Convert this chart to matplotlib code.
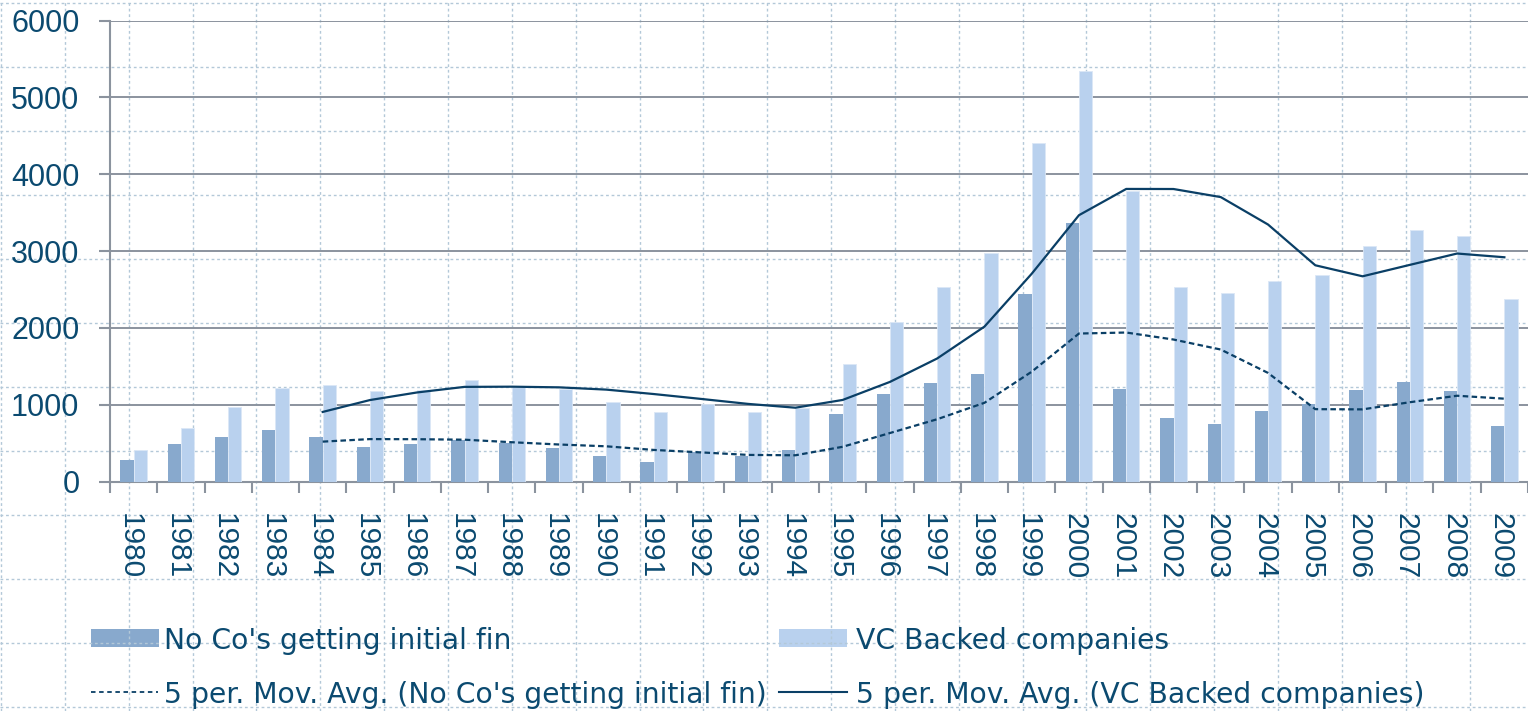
import matplotlib
matplotlib.use("Agg")
import matplotlib.pyplot as plt
import matplotlib.transforms as mtransforms
import numpy as np
import pandas as pd
from matplotlib.patches import Rectangle
from matplotlib.lines import Line2D

plt.rcParams['font.family'] = ['Liberation Sans', 'DejaVu Sans']

# ---------------- data ----------------
years = [str(y) for y in range(1980, 2010)]
no_cos = [283, 491, 574, 665, 583, 448, 483, 543, 500, 435,
          330, 248, 383, 335, 411, 883, 1143, 1282, 1404, 2435,
          3369, 1209, 826, 752, 913, 1009, 1196, 1291, 1174, 722]
vc_backed = [404, 691, 965, 1217, 1252, 1178, 1187, 1326, 1230, 1209,
             1030, 900, 1009, 904, 961, 1535, 2074, 2535, 2978, 4403,
             5348, 3783, 2530, 2452, 2617, 2695, 3065, 3274, 3191, 2374]
y_ticks = [0, 1000, 2000, 3000, 4000, 5000, 6000]
legend_labels = ["No Co's getting initial fin", "VC Backed companies",
                 "5 per. Mov. Avg. (No Co's getting initial fin)",
                 "5 per. Mov. Avg. (VC Backed companies)"]

# ---------------- style ----------------
W, H = 1528, 711
DARK_BAR = '#88a9cd'
LIGHT_BAR = '#b9d1ee'
NAVY = '#0b4a70'
LINE = '#0a3f66'
GRID = '#8b939e'
BG_GRID = '#b3c8d8'

fig = plt.figure(figsize=(W / 100, H / 100), dpi=100)

# background "paper" grid covering whole figure (pixel coordinates)
bg = fig.add_axes([0, 0, 1, 1], zorder=0)
bg.set_xlim(0, W)
bg.set_ylim(H, 0)
bg.axis('off')
for k in range(0, 24):
    xv = 1 + 63.85 * k
    bg.axvline(xv, color=BG_GRID, lw=1.0, ls=(0, (2, 2)))
for k in range(0, 12):
    yv = 3 + 64.0 * k
    bg.axhline(yv, color=BG_GRID, lw=1.0, ls=(0, (2, 2)))

# main axes
left_px, right_px, top_px, bottom_px = 110, 1528, 20.7, 481.5
ax = fig.add_axes([left_px / W, 1 - bottom_px / H,
                   (right_px - left_px) / W, (bottom_px - top_px) / H], zorder=2)
ax.set_facecolor('none')

x = np.arange(len(years))
bw = 0.28
ax.bar(x - bw / 2, no_cos, width=bw, color=DARK_BAR, zorder=3, linewidth=0)
ax.bar(x + bw / 2, vc_backed, width=bw, color=LIGHT_BAR, zorder=3,
       edgecolor='#dbe7f6', linewidth=0.6)

ma_no = pd.Series(no_cos).rolling(5).mean()
ma_vc = pd.Series(vc_backed).rolling(5).mean()
ax.plot(x, ma_no, color=LINE, lw=1.6, ls=(0, (2.5, 1.5)), zorder=4)
ax.plot(x, ma_vc, color=LINE, lw=1.6, zorder=4)

ax.set_xlim(-0.5, len(years) - 0.5)
ax.set_ylim(0, 6000)
ax.set_yticks(y_ticks)
ax.set_yticklabels([str(v) for v in y_ticks], fontsize=22, color=NAVY)
ax.set_xticks(np.arange(len(years) + 1) - 0.5, minor=False)
ax.set_xticklabels([''] * (len(years) + 1))
ax.set_xticks(x, minor=True)
ax.set_xticklabels(years, minor=True, rotation=-90, fontsize=21.5, color=NAVY,
                   ha='center', va='top')
ax.tick_params(axis='x', which='major', direction='out', length=8, width=1.5,
               color=GRID)
ax.tick_params(axis='x', which='minor', length=0, pad=23)
ax.tick_params(axis='y', direction='out', length=8, width=1.5, color=GRID, pad=14)
shift = mtransforms.ScaledTranslation(-4 / 100, 0, fig.dpi_scale_trans)
for lab in ax.get_xticklabels(minor=True):
    lab.set_transform(lab.get_transform() + shift)

ax.yaxis.grid(True, color=GRID, lw=1.4, zorder=1)
ax.set_axisbelow(True)
for s in ['top', 'right']:
    ax.spines[s].set_visible(False)
for s in ['left', 'bottom']:
    ax.spines[s].set_color(GRID)
    ax.spines[s].set_linewidth(1.5)

# ---------------- legend (pixel coordinates on bg axes) ----------------
leg_font = dict(fontsize=20.3, color=NAVY, va='baseline', ha='left',
                family=['DejaVu Sans'])
bg.add_patch(Rectangle((91, 629), 68, 18, color=DARK_BAR, lw=0))
bg.text(164.5, 648.7, legend_labels[0], **leg_font)
bg.add_patch(Rectangle((779, 629), 68, 18, color=LIGHT_BAR, lw=0))
bg.text(856, 648.7, legend_labels[1], **leg_font)
bg.add_line(Line2D([91, 158], [691.7, 691.7], color=LINE, lw=1.3, ls=(0, (2.5, 2))))
bg.text(164.5, 702.7, legend_labels[2], **leg_font)
bg.add_line(Line2D([779, 847], [691.7, 691.7], color=LINE, lw=1.5))
bg.text(856, 702.7, legend_labels[3], **leg_font)

fig.savefig('out.png', dpi=100)
